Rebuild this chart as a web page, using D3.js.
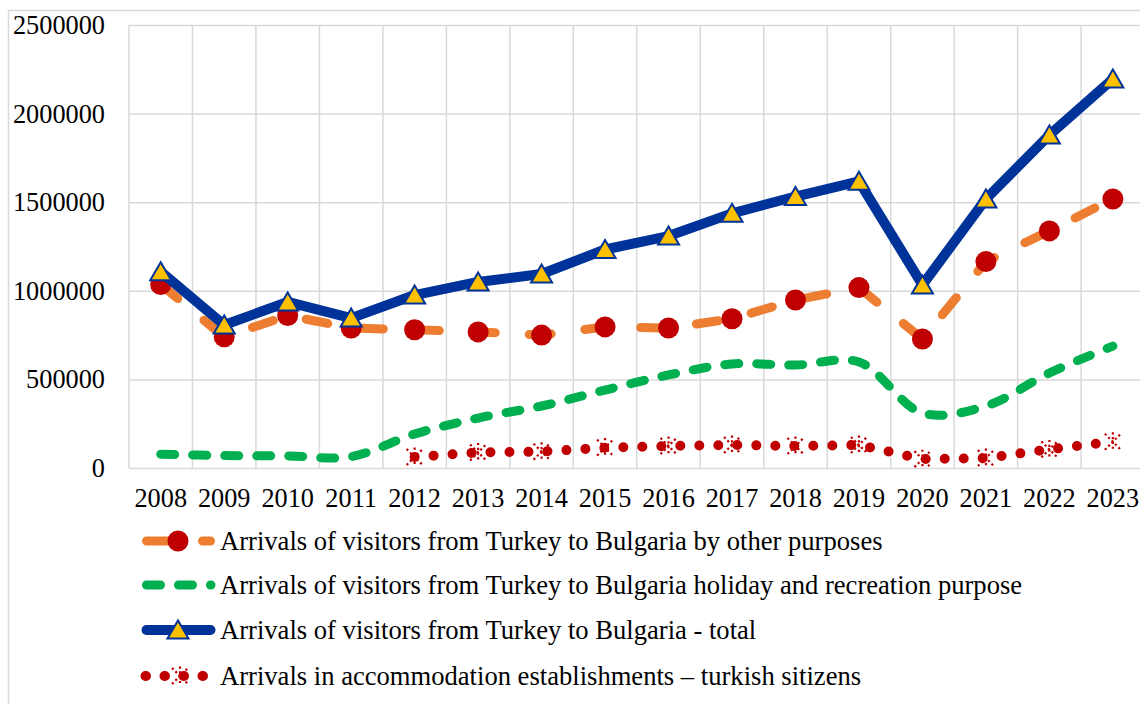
<!DOCTYPE html>
<html>
<head>
<meta charset="utf-8">
<script src="https://cdn.jsdelivr.net/npm/d3@7"></script>
<style>
  html, body { margin: 0; padding: 0; background: #fff; overflow: hidden; }
  svg text { font-family: "Liberation Serif", "Times New Roman", serif; fill: #000; }
</style>
</head>
<body>
<svg id="chart" width="1140" height="704"></svg>
<script>
// Years on the category axis
const years = ["2008","2009","2010","2011","2012","2013","2014","2015",
               "2016","2017","2018","2019","2020","2021","2022","2023"];

// Arrivals of visitors from Turkey to Bulgaria by other purposes
const otherPurposes = [1035000, 740000, 860000, 790000, 780000, 768000, 750000, 796000,
                       790000, 842000, 948000, 1018000, 728000, 1165000, 1338000, 1518000];

// Arrivals of visitors from Turkey to Bulgaria, holiday and recreation purpose
const holidayRecreation = [78000, 70000, 68000, 64000, 192000, 282000, 350000, 440000,
                           525000, 587000, 581000, 598000, 310000, 350000, 536000, 688000];

// Arrivals of visitors from Turkey to Bulgaria - total
const totalArrivals = [1108000, 807000, 937000, 846000, 976000, 1050000, 1095000, 1233000,
                       1309000, 1437000, 1532000, 1618000, 1033000, 1518000, 1879000, 2195000];

// Arrivals in accommodation establishments - Turkish citizens (from 2012)
const accommodation = [null, null, null, null, 62000, 88000, 92000, 115000,
                       124000, 130000, 124000, 130000, 50000, 56000, 105000, 148000];

const yTicks = [0, 500000, 1000000, 1500000, 2000000, 2500000];

const legendLabels = [
  "Arrivals of visitors from Turkey to Bulgaria by other purposes",
  "Arrivals of visitors from Turkey to Bulgaria holiday and recreation purpose",
  "Arrivals of visitors from Turkey to Bulgaria - total",
  "Arrivals in accommodation establishments \u2013 turkish sitizens"
];

const svg = d3.select("#chart");
const plotLeft = 129, plotRight = 1144.6, plotTop = 25, plotBottom = 468;
const gridColor = "#D9D9D9";
const axisFont = "26.3px", legendFont = "26.6px";

// Outer chart border
svg.append("rect")
  .attr("x", 8.5).attr("y", 10.5)
  .attr("width", 1300).attr("height", 900)
  .attr("fill", "none").attr("stroke", gridColor).attr("stroke-width", 1.5);

const x = d3.scaleBand().domain(years).range([plotLeft, plotRight]).padding(0);
const y = d3.scaleLinear().domain([0, 2500000]).range([plotBottom, plotTop]);
const cx = d => x(d) + x.bandwidth() / 2;

// Vertical gridlines at category boundaries
const edges = years.map(d => x(d)).concat([plotRight]);
svg.append("g").selectAll("line").data(edges).join("line")
  .attr("x1", d => d).attr("x2", d => d)
  .attr("y1", plotTop).attr("y2", plotBottom)
  .attr("stroke", gridColor).attr("stroke-width", 1.5);

// Y axis with horizontal gridlines
const yAxis = svg.append("g")
  .attr("transform", `translate(${plotLeft},0)`)
  .call(d3.axisLeft(y).tickValues(yTicks).tickFormat(d3.format("d"))
        .tickSize(-(plotRight - plotLeft)).tickPadding(24));
yAxis.select(".domain").remove();
yAxis.selectAll(".tick line").attr("stroke", gridColor).attr("stroke-width", 1.5);
yAxis.selectAll(".tick text")
  .attr("dy", null).attr("dominant-baseline", "central")
  .style("font-size", axisFont).style("font-family", "Liberation Serif");

// X axis labels
const xAxis = svg.append("g")
  .attr("transform", `translate(0,${plotBottom})`)
  .call(d3.axisBottom(x).tickSize(0).tickPadding(0));
xAxis.select(".domain").remove();
xAxis.selectAll(".tick text")
  .attr("dy", null).attr("y", 30).attr("dominant-baseline", "central")
  .style("font-size", axisFont).style("font-family", "Liberation Serif");

const COL = {
  orange: "#ED7D31", red: "#C00000", green: "#00B050",
  blue: "#003399", gold: "#FFC000"
};

const pts = arr => years.map((yr, i) => ({ yr, v: arr[i] }));

const straight = d3.line().defined(d => d.v != null).x(d => cx(d.yr)).y(d => y(d.v));
const smooth = d3.line().defined(d => d.v != null).x(d => cx(d.yr)).y(d => y(d.v))
  .curve(d3.curveCatmullRom.alpha(0.5));

const triPath = "M0,-9.5L10.5,8.5L-10.5,8.5Z";
const starPath = "M-8,-8L8,8M-8,8L8,-8M0,-9.5L0,9.5";

// Series 1: other purposes
const g1 = svg.append("g");
g1.append("path").datum(pts(otherPurposes)).attr("d", straight)
  .attr("fill", "none").attr("stroke", COL.orange).attr("stroke-width", 9)
  .attr("stroke-dasharray", "22 34").attr("stroke-linecap", "round").attr("stroke-linejoin", "round");
g1.selectAll("circle").data(pts(otherPurposes)).join("circle")
  .attr("cx", d => cx(d.yr)).attr("cy", d => y(d.v)).attr("r", 10.5)
  .attr("fill", COL.red);

// Series 2: holiday and recreation
const g2 = svg.append("g");
g2.append("path").datum(pts(holidayRecreation)).attr("d", smooth)
  .attr("fill", "none").attr("stroke", COL.green).attr("stroke-width", 9)
  .attr("stroke-dasharray", "14 18").attr("stroke-linecap", "round").attr("stroke-linejoin", "round");

// Series 3: total
const g3 = svg.append("g");
g3.append("path").datum(pts(totalArrivals)).attr("d", straight)
  .attr("fill", "none").attr("stroke", COL.blue).attr("stroke-width", 10)
  .attr("stroke-linejoin", "round").attr("stroke-linecap", "round");
g3.selectAll("path.tri").data(pts(totalArrivals)).join("path").attr("class", "tri")
  .attr("transform", d => `translate(${cx(d.yr)},${y(d.v)})`)
  .attr("d", triPath).attr("fill", COL.gold).attr("stroke", COL.blue)
  .attr("stroke-width", 2).attr("stroke-linejoin", "miter");

// Series 4: accommodation establishments
const g4 = svg.append("g");
g4.append("path").datum(pts(accommodation)).attr("d", straight)
  .attr("fill", "none").attr("stroke", COL.red).attr("stroke-width", 10)
  .attr("stroke-dasharray", "0 19").attr("stroke-linecap", "round");
g4.selectAll("path.star").data(pts(accommodation).filter(d => d.v != null)).join("path")
  .attr("class", "star")
  .attr("transform", d => `translate(${cx(d.yr)},${y(d.v)})`)
  .attr("d", starPath).attr("fill", "none").attr("stroke", COL.red)
  .attr("stroke-width", 2.2).attr("stroke-dasharray", "2.2 2.6");

// Legend
const legendY = [541, 585, 630, 676];
const lmid = 178;
const leg = svg.append("g");
legendLabels.forEach((label, i) => {
  const gy = legendY[i];
  const row = leg.append("g");
  const seg = row.append("line").attr("x1", 146.5).attr("x2", 210.5).attr("y1", gy).attr("y2", gy)
    .attr("fill", "none").attr("stroke-linecap", "round");
  if (i === 0) {
    seg.attr("stroke", COL.orange).attr("stroke-width", 9).attr("stroke-dasharray", "22 34");
    row.append("circle").attr("cx", lmid).attr("cy", gy).attr("r", 10.5).attr("fill", COL.red);
  } else if (i === 1) {
    seg.attr("x2", 211.5)
      .attr("stroke", COL.green).attr("stroke-width", 9)
      .attr("stroke-dasharray", "14 18 14 18 0.5 40");
  } else if (i === 2) {
    seg.attr("stroke", COL.blue).attr("stroke-width", 10);
    row.append("path").attr("transform", `translate(${lmid},${gy})`).attr("d", triPath)
      .attr("fill", COL.gold).attr("stroke", COL.blue).attr("stroke-width", 2);
  } else {
    seg.attr("x1", 145.5).attr("x2", 204)
      .attr("stroke", COL.red).attr("stroke-width", 10).attr("stroke-dasharray", "0.5 18.5");
    row.append("path").attr("transform", `translate(${lmid + 2},${gy})`).attr("d", starPath)
      .attr("fill", "none").attr("stroke", COL.red).attr("stroke-width", 2.2)
      .attr("stroke-dasharray", "2.2 2.6");
  }
  row.append("text").attr("x", 220).attr("y", gy)
    .attr("dominant-baseline", "central")
    .style("font-size", legendFont)
    .text(label);
});
</script>
</body>
</html>
